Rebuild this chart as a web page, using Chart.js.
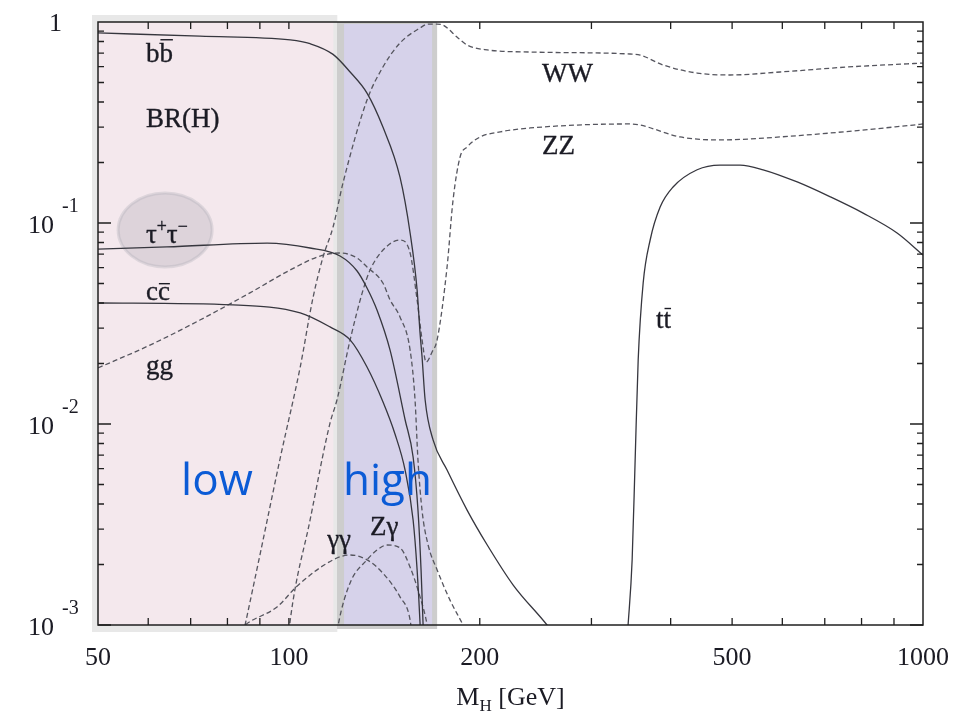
<!DOCTYPE html>
<html>
<head>
<meta charset="utf-8">
<script src="https://cdn.jsdelivr.net/npm/chart.js@4.4.1/dist/chart.umd.min.js"></script>
<style>
  html, body { margin: 0; padding: 0; background: #fff; }
  canvas { display: block; }
</style>
</head>
<body>
<canvas id="br" width="980" height="715"></canvas>
<script>
// SM Higgs branching ratios against M_H (GeV)
const bbMass = [50, 72.4, 100.5, 108, 117.4, 124.9, 132.8, 140.7, 149.7, 155.3, 159.3, 161.0, 162.2, 164.0, 168.8, 177.6, 191.0, 205.5, 225.8, 255.3, 266];
const bbBR   = [0.882, 0.85, 0.814, 0.78, 0.69, 0.564, 0.443, 0.300, 0.169, 0.0892, 0.0464, 0.0284, 0.0215, 0.0132, 0.00833, 0.0059, 0.00373, 0.0025, 0.00158, 0.0010, 0.00084];

const tauMass = [50, 64.2, 92.4, 108, 120.4, 128.1, 132.8, 137.7, 144.4, 152.5, 157.0, 159.8, 161.6, 162.8, 163.4];
const tauBR   = [0.0742, 0.0760, 0.0795, 0.0751, 0.0685, 0.0577, 0.0475, 0.0369, 0.0233, 0.0105, 0.00685, 0.00373, 0.00188, 0.0010, 0.00075];

const ccMass = [50, 81.6, 104.2, 116.1, 124.9, 132.8, 140.7, 147.0, 152.5, 157.0, 159.3, 161.0, 161.6];
const ccBR   = [0.0400, 0.0391, 0.0357, 0.0304, 0.0262, 0.0192, 0.0129, 0.00892, 0.0059, 0.00333, 0.00188, 0.00102, 0.00075];

const ggMass = [50, 60.4, 72.4, 86.8, 100.5, 112.0, 120.4, 128.1, 132.8, 140.7, 144.4, 149.7, 155.3, 158.1, 159.8, 162.2, 165.8, 171.3, 179.5, 188.2, 192.5];
const ggBR   = [0.0190, 0.0247, 0.0329, 0.0449, 0.0584, 0.0685, 0.0709, 0.067, 0.0604, 0.0503, 0.0414, 0.0341, 0.0233, 0.0132, 0.00662, 0.0037, 0.0025, 0.00188, 0.00133, 0.0010, 0.00086];

const wwMass = [83.7, 85.3, 90.1, 96.9, 104.2, 109.2, 113.2, 117.4, 121.7, 132.8, 140.7, 149.7, 161.0, 165.8, 171.3, 175.0, 184.1, 191.0, 205.5, 240.1, 345.2, 358.1, 389.2, 440.4, 496.3, 595.3, 759.3, 1000];
const wwBR   = [0.00076, 0.0010, 0.00226, 0.00677, 0.0192, 0.0428, 0.0677, 0.0955, 0.158, 0.409, 0.597, 0.786, 0.934, 0.977, 0.977, 0.966, 0.842, 0.768, 0.726, 0.709, 0.693, 0.685, 0.611, 0.557, 0.545, 0.564, 0.597, 0.625];

const zzMass = [99.8, 100.5, 108, 116.1, 119.1, 124.9, 130.9, 134.3, 141.8, 149.7, 155.3, 159.3, 162.2, 164.6, 168.2, 171.3, 177.6, 181.5, 186.2, 191.0, 200.3, 215.4, 240.1, 345.2, 358.1, 413.9, 478.6, 595.3, 964.8, 1000];
const zzBR   = [0.00085, 0.00106, 0.00333, 0.0101, 0.0132, 0.0262, 0.0464, 0.0584, 0.0751, 0.0823, 0.0709, 0.0414, 0.0262, 0.0203, 0.0228, 0.0262, 0.0604, 0.130, 0.213, 0.239, 0.268, 0.284, 0.297, 0.311, 0.307, 0.268, 0.259, 0.268, 0.307, 0.311];

const aaMass = [83.7, 85.3, 95.8, 103.0, 117.4, 124.9, 132.8, 140.7, 149.7, 155.3, 156.4];
const aaBR   = [0.00094, 0.0010, 0.00123, 0.00156, 0.00211, 0.00223, 0.00211, 0.00181, 0.00138, 0.00106, 0.00088];

const zaMass = [118.7, 119.6, 124.9, 132.8, 137.7, 142.8, 149.7, 155.3, 161.0, 165.2, 166.4];
const zaBR   = [0.00085, 0.0010, 0.00162, 0.00211, 0.00236, 0.0025, 0.00242, 0.00194, 0.00138, 0.0010, 0.00085];

const ttMass = [341.4, 342.7, 347.8, 351.6, 355.5, 362.0, 371.3, 385.0, 403.5, 440.4, 478.6, 514.7, 559.6, 633.3, 713.9, 804.7, 910.2, 1000];
const ttBR   = [0.00085, 0.0010, 0.00211, 0.00662, 0.0208, 0.0503, 0.0823, 0.120, 0.151, 0.184, 0.194, 0.194, 0.184, 0.160, 0.135, 0.112, 0.0892, 0.0693];

// axis ticks
const xTicks = [50, 100, 200, 500, 1000];
const xTickMarks = [60, 70, 80, 90, 100, 200, 300, 400, 500, 600, 700, 800, 900];
const yTicks = [1, 0.1, 0.01, 0.001];
const yExp = [0, -1, -2, -3];

// mass windows
const lowRange = [50, 117.5];
const highRange = [119.1, 171.3];

const SERIF = '"Liberation Serif", "DejaVu Serif", serif';
const INK = '#1b1b24';

const curveLabels = [
  { parts: [{ t: 'b' }, { t: 'b', bar: true }], m: 59.5, br: 0.632 },
  { parts: [{ t: 'BR(H)' }], m: 59.5, br: 0.300 },
  { parts: [{ t: 'τ' }, { t: '+', sup: true }, { t: 'τ' }, { t: '−', sup: true }], m: 59.5, br: 0.0795 },
  { parts: [{ t: 'c' }, { t: 'c', bar: true }], m: 59.5, br: 0.0414 },
  { parts: [{ t: 'gg' }], m: 59.5, br: 0.0177 },
  { parts: [{ t: 'WW' }], m: 250.7, br: 0.503 },
  { parts: [{ t: 'ZZ' }], m: 250.7, br: 0.220 },
  { parts: [{ t: 't' }, { t: 't', bar: true }], m: 379.3, br: 0.0301 },
  { parts: [{ t: 'γγ' }], m: 114.9, br: 0.00242 },
  { parts: [{ t: 'Zγ' }], m: 134.3, br: 0.0028 }
];
const regionLabels = [
  { t: 'low', m: 67.6, br: 0.00443 },
  { t: 'high', m: 121.7, br: 0.00443 }
];

function pts(ms, brs) {
  return ms.map((m, i) => ({ x: m, y: brs[i] }));
}

function line(label, ms, brs, dashed) {
  return {
    label,
    data: pts(ms, brs),
    borderColor: dashed ? '#55555e' : '#36363e',
    borderWidth: 1.3,
    borderDash: dashed ? [5, 3] : [],
    pointRadius: 0,
    cubicInterpolationMode: 'monotone',
    fill: false
  };
}

// text run with super/subscripts and overbars
function drawRich(ctx, x, y, parts, size) {
  let cx = x;
  for (const p of parts) {
    const s = (p.sup || p.sub) ? size * 0.66 : size;
    ctx.font = s + 'px ' + SERIF;
    const dy = p.sup ? -size * 0.42 : p.sub ? size * 0.25 : 0;
    ctx.fillText(p.t, cx, y + dy);
    ctx.strokeText(p.t, cx, y + dy);
    const mt = ctx.measureText(p.t);
    if (p.bar) {
      const top = y + dy - mt.actualBoundingBoxAscent - 4;
      ctx.fillRect(cx + 1, top, mt.width - 1, 1.4);
    }
    cx += mt.width;
  }
  return cx - x;
}

const decor = {
  id: 'decor',
  beforeDatasetsDraw(chart) {
    const { ctx, chartArea: a, scales: { x, y } } = chart;
    ctx.save();
    const l0 = x.getPixelForValue(lowRange[0]);
    const l1 = x.getPixelForValue(lowRange[1]);
    ctx.fillStyle = '#e8e8e8';
    ctx.fillRect(l0 - 6, a.top - 7, l1 - l0 + 10, a.bottom - a.top + 14);
    ctx.fillStyle = '#f4e8ed';
    ctx.fillRect(l0, a.top, l1 - l0, a.bottom - a.top);

    const h0 = x.getPixelForValue(highRange[0]);
    const h1 = x.getPixelForValue(highRange[1]);
    ctx.fillStyle = '#cdcdcd';
    ctx.fillRect(h0, a.top, h1 - h0, a.bottom - a.top + 4);
    ctx.fillStyle = '#d6d2ea';
    ctx.fillRect(h0 + 7, a.top + 2, h1 - h0 - 12, a.bottom - a.top - 2);

    // highlight round the tau pair label
    const ex = x.getPixelForValue(63.8), ey = y.getPixelForValue(0.0923);
    ctx.beginPath();
    ctx.ellipse(ex, ey, 47, 37, 0, 0, Math.PI * 2);
    ctx.fillStyle = 'rgba(150,148,160,0.24)';
    ctx.fill();
    ctx.lineWidth = 3;
    ctx.strokeStyle = 'rgba(170,168,178,0.3)';
    ctx.stroke();
    ctx.restore();
  },
  afterDatasetsDraw(chart) {
    const { ctx, chartArea: a, scales: { x, y } } = chart;
    ctx.save();

    // frame and inward ticks
    ctx.strokeStyle = '#1f1f1f';
    ctx.lineWidth = 1.5;
    ctx.strokeRect(a.left, a.top, a.right - a.left, a.bottom - a.top);
    ctx.lineWidth = 1.3;
    ctx.beginPath();
    for (const v of xTickMarks) {
      const px = x.getPixelForValue(v);
      ctx.moveTo(px, a.bottom); ctx.lineTo(px, a.bottom - 7);
      ctx.moveTo(px, a.top); ctx.lineTo(px, a.top + 7);
    }
    for (const d of yTicks.slice(1)) {
      for (let k = 1; k <= 9; k++) {
        const py = y.getPixelForValue(d * k);
        const len = k === 1 ? 13 : 6;
        ctx.moveTo(a.left, py); ctx.lineTo(a.left + len, py);
        ctx.moveTo(a.right, py); ctx.lineTo(a.right - len, py);
      }
    }
    ctx.stroke();

    ctx.fillStyle = INK;
    ctx.strokeStyle = INK;
    ctx.lineWidth = 0.35;
    ctx.textBaseline = 'alphabetic';

    // x tick labels
    ctx.font = '26px ' + SERIF;
    ctx.textAlign = 'center';
    xTicks.forEach(v => ctx.fillText(String(v), x.getPixelForValue(v), 665));

    // y tick labels
    yTicks.forEach((v, i) => {
      const py = y.getPixelForValue(v);
      ctx.font = '26px ' + SERIF;
      if (yExp[i] === 0) {
        ctx.textAlign = 'right';
        ctx.fillText('1', 62, py + 9);
        return;
      }
      ctx.textAlign = 'right';
      ctx.fillText('10', 54, py + 10);
      ctx.textAlign = 'left';
      ctx.font = '20px ' + SERIF;
      ctx.fillText(String(yExp[i]), 62, py - 11);
    });

    // axis title
    ctx.textAlign = 'left';
    ctx.font = '26px ' + SERIF;
    const wM = ctx.measureText('M').width;
    const wG = ctx.measureText(' [GeV]').width;
    ctx.font = '17px ' + SERIF;
    const wH = ctx.measureText('H').width;
    let tx = (a.left + a.right) / 2 - (wM + wH + wG) / 2;
    ctx.font = '26px ' + SERIF;
    ctx.fillText('M', tx, 705);
    ctx.font = '17px ' + SERIF;
    ctx.fillText('H', tx + wM, 711);
    ctx.font = '26px ' + SERIF;
    ctx.fillText(' [GeV]', tx + wM + wH, 705);

    // channel labels
    ctx.textAlign = 'left';
    for (const lb of curveLabels) {
      drawRich(ctx, x.getPixelForValue(lb.m), y.getPixelForValue(lb.br), lb.parts, 27);
    }

    // mass window labels
    ctx.fillStyle = '#0b5bd6';
    ctx.font = '44px "Open Sans", "DejaVu Sans", sans-serif';
    for (const r of regionLabels) {
      ctx.fillText(r.t, x.getPixelForValue(r.m), y.getPixelForValue(r.br));
    }
    ctx.restore();
  }
};

new Chart(document.getElementById('br'), {
  type: 'line',
  data: {
    datasets: [
      line('bb', bbMass, bbBR, false),
      line('tautau', tauMass, tauBR, false),
      line('cc', ccMass, ccBR, false),
      line('tt', ttMass, ttBR, false),
      line('gg', ggMass, ggBR, true),
      line('WW', wwMass, wwBR, true),
      line('ZZ', zzMass, zzBR, true),
      line('gamgam', aaMass, aaBR, true),
      line('Zgam', zaMass, zaBR, true)
    ]
  },
  options: {
    responsive: false,
    animation: false,
    devicePixelRatio: 1,
    layout: { padding: { left: 98, top: 22, right: 57, bottom: 90 } },
    scales: {
      x: { type: 'logarithmic', min: 50, max: 1000, display: false },
      y: { type: 'logarithmic', min: 0.001, max: 1, display: false }
    },
    plugins: {
      legend: { display: false },
      tooltip: { enabled: false }
    }
  },
  plugins: [decor]
});
</script>
</body>
</html>
